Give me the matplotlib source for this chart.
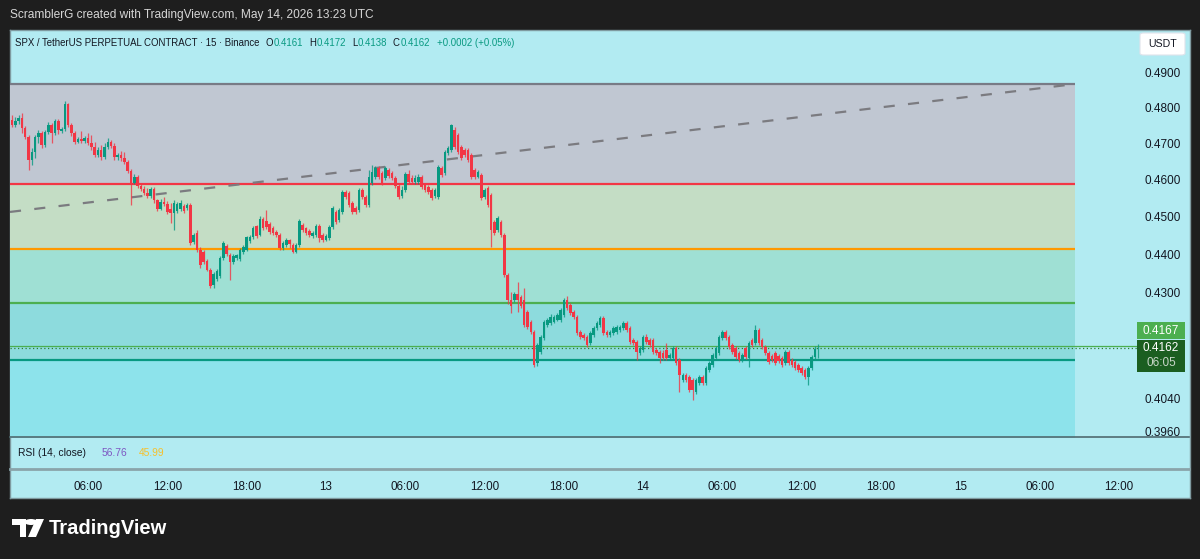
import datetime as dt
import matplotlib
matplotlib.use("Agg")
import matplotlib.pyplot as plt
import matplotlib.dates as mdates
from matplotlib.ticker import FixedLocator, FuncFormatter, NullLocator
from matplotlib.patches import Rectangle, FancyBboxPatch, Polygon, Circle
import pandas as pd

# ---------------- data ----------------
start_time = "2026-05-12 00:15"
opens = [
    .4765, .4751, .4762, .4771, .4743, .4718, .4653, .4675, .4718, .4729,
    .4695, .4732, .4751, .4729, .4762, .4734, .4740, .4811, .4751, .4729,
    .4704, .4712, .4706, .4715, .4701, .4690, .4667, .4681, .4661, .4690,
    .4704, .4692, .4661, .4667, .4659, .4647, .4623, .4590, .4606, .4582,
    .4574, .4563, .4555, .4574, .4544, .4520, .4539, .4533, .4520, .4509,
    .4514, .4520, .4528, .4522, .4530, .4432, .4456, .4411, .4406, .4382,
    .4359, .4320, .4336, .4344, .4390, .4421, .4398, .4380, .4390, .4388,
    .4406, .4411, .4435, .4445, .4475, .4451, .4493, .4488, .4480, .4469,
    .4459, .4451, .4416, .4424, .4437, .4424, .4406, .4424, .4477, .4469,
    .4461, .4448, .4451, .4475, .4451, .4437, .4443, .4472, .4512, .4490,
    .4512, .4566, .4563, .4536, .4522, .4517, .4571, .4552, .4530, .4590,
    .4606, .4631, .4618, .4604, .4626, .4618, .4604, .4582, .4555, .4571,
    .4615, .4604, .4593, .4593, .4606, .4585, .4579, .4571, .4555, .4552,
    .4631, .4618, .4673, .4681, .4737, .4723, .4690, .4681, .4681, .4667,
    .4626, .4606, .4612, .4552, .4576, .4557, .4485, .4464, .4485, .4451,
    .4346, .4282, .4282, .4298, .4290, .4282, .4252, .4227, .4202, .4125,
    .4152, .4187, .4220, .4225, .4227, .4232, .4232, .4245, .4282, .4270,
    .4252, .4240, .4202, .4195, .4190, .4175, .4195, .4212, .4220, .4237,
    .4202, .4195, .4200, .4202, .4207, .4212, .4225, .4212, .4182, .4177,
    .4150, .4157, .4190, .4182, .4182, .4157, .4152, .4150, .4157, .4137,
    .4137, .4162, .4132, .4083, .4096, .4091, .4083, .4054, .4076, .4091,
    .4076, .4108, .4120, .4137, .4150, .4187, .4202, .4190, .4170, .4162,
    .4150, .4132, .4162, .4137, .4182, .4175, .4207, .4182, .4165, .4150,
    .4142, .4150, .4142, .4137, .4125, .4152, .4132, .4127, .4120, .4113,
    .4108, .4091, .4113, .4140, .4161]
highs = [
    .4779, .4774, .4779, .4785, .4748, .4723, .4687, .4723, .4737, .4734,
    .4737, .4760, .4757, .4768, .4768, .4745, .4819, .4813, .4757, .4734,
    .4718, .4734, .4720, .4729, .4723, .4704, .4690, .4695, .4701, .4715,
    .4709, .4701, .4673, .4678, .4675, .4653, .4629, .4615, .4612, .4587,
    .4582, .4576, .4579, .4579, .4547, .4547, .4552, .4541, .4536, .4544,
    .4539, .4544, .4533, .4536, .4536, .4456, .4464, .4419, .4411, .4388,
    .4364, .4354, .4362, .4395, .4434, .4427, .4403, .4401, .4401, .4416,
    .4424, .4448, .4451, .4475, .4477, .4501, .4498, .4517, .4485, .4475,
    .4464, .4456, .4435, .4443, .4440, .4429, .4429, .4493, .4482, .4472,
    .4467, .4461, .4480, .4480, .4456, .4453, .4477, .4528, .4517, .4522,
    .4571, .4571, .4568, .4541, .4528, .4576, .4576, .4557, .4626, .4640,
    .4637, .4637, .4623, .4637, .4631, .4623, .4609, .4587, .4582, .4620,
    .4626, .4612, .4612, .4615, .4612, .4590, .4585, .4576, .4576, .4640,
    .4637, .4681, .4692, .4754, .4745, .4729, .4695, .4687, .4687, .4673,
    .4631, .4626, .4618, .4576, .4582, .4563, .4490, .4501, .4490, .4456,
    .4351, .4303, .4303, .4328, .4295, .4313, .4257, .4232, .4207, .4175,
    .4195, .4232, .4237, .4247, .4245, .4250, .4262, .4287, .4292, .4275,
    .4257, .4245, .4207, .4200, .4195, .4205, .4217, .4230, .4242, .4242,
    .4207, .4207, .4217, .4220, .4220, .4230, .4230, .4217, .4187, .4182,
    .4167, .4195, .4197, .4187, .4187, .4162, .4157, .4157, .4175, .4150,
    .4167, .4167, .4137, .4100, .4100, .4096, .4088, .4088, .4096, .4096,
    .4117, .4130, .4150, .4167, .4195, .4207, .4207, .4195, .4175, .4167,
    .4155, .4150, .4167, .4180, .4187, .4220, .4212, .4187, .4170, .4155,
    .4147, .4155, .4147, .4142, .4157, .4157, .4137, .4132, .4125, .4117,
    .4113, .4117, .4145, .4167, .4172]
lows = [
    .4745, .4745, .4754, .4729, .4712, .4626, .4640, .4659, .4701, .4687,
    .4690, .4726, .4701, .4723, .4726, .4729, .4734, .4745, .4720, .4698,
    .4701, .4701, .4701, .4695, .4681, .4661, .4661, .4653, .4656, .4684,
    .4687, .4653, .4653, .4650, .4642, .4618, .4530, .4587, .4576, .4568,
    .4557, .4549, .4549, .4536, .4514, .4517, .4528, .4506, .4482, .4464,
    .4509, .4514, .4509, .4517, .4424, .4427, .4406, .4364, .4375, .4356,
    .4313, .4313, .4331, .4338, .4385, .4395, .4333, .4375, .4385, .4382,
    .4401, .4408, .4429, .4440, .4443, .4448, .4464, .4467, .4453, .4451,
    .4445, .4411, .4411, .4419, .4416, .4403, .4403, .4419, .4459, .4451,
    .4445, .4443, .4445, .4432, .4432, .4435, .4437, .4467, .4480, .4485,
    .4506, .4547, .4525, .4506, .4506, .4512, .4547, .4525, .4525, .4585,
    .4601, .4601, .4585, .4598, .4604, .4598, .4576, .4547, .4549, .4566,
    .4587, .4587, .4587, .4587, .4574, .4566, .4560, .4544, .4549, .4547,
    .4606, .4612, .4667, .4675, .4684, .4670, .4653, .4661, .4647, .4601,
    .4601, .4604, .4544, .4547, .4525, .4419, .4451, .4459, .4445, .4341,
    .4272, .4250, .4277, .4252, .4262, .4215, .4210, .4197, .4115, .4118,
    .4147, .4182, .4215, .4220, .4225, .4230, .4227, .4240, .4257, .4245,
    .4235, .4195, .4185, .4182, .4165, .4170, .4190, .4207, .4215, .4195,
    .4190, .4190, .4195, .4197, .4202, .4207, .4202, .4172, .4170, .4132,
    .4145, .4152, .4172, .4165, .4147, .4145, .4125, .4132, .4132, .4132,
    .4132, .4120, .4054, .4078, .4078, .4054, .4035, .4049, .4071, .4071,
    .4071, .4103, .4115, .4132, .4145, .4182, .4182, .4160, .4147, .4135,
    .4127, .4127, .4135, .4115, .4165, .4170, .4170, .4160, .4145, .4122,
    .4127, .4120, .4125, .4115, .4120, .4120, .4115, .4108, .4103, .4096,
    .4086, .4071, .4108, .4135, .4138]
closes = [
    .4751, .4762, .4771, .4743, .4718, .4653, .4675, .4718, .4729, .4695,
    .4732, .4751, .4729, .4762, .4737, .4740, .4811, .4751, .4729, .4704,
    .4712, .4706, .4715, .4701, .4690, .4667, .4681, .4661, .4690, .4704,
    .4692, .4661, .4667, .4659, .4647, .4623, .4590, .4606, .4582, .4574,
    .4563, .4555, .4574, .4544, .4520, .4539, .4533, .4512, .4509, .4536,
    .4533, .4536, .4514, .4530, .4429, .4451, .4411, .4372, .4380, .4359,
    .4318, .4349, .4356, .4390, .4429, .4401, .4380, .4395, .4398, .4411,
    .4419, .4445, .4445, .4469, .4448, .4493, .4469, .4472, .4459, .4456,
    .4451, .4416, .4429, .4437, .4427, .4406, .4424, .4488, .4464, .4456,
    .4451, .4456, .4475, .4443, .4437, .4448, .4472, .4522, .4485, .4517,
    .4566, .4552, .4530, .4512, .4512, .4571, .4552, .4530, .4606, .4620,
    .4631, .4606, .4590, .4631, .4609, .4604, .4582, .4552, .4571, .4615,
    .4593, .4593, .4604, .4606, .4579, .4571, .4566, .4549, .4571, .4634,
    .4612, .4675, .4687, .4751, .4690, .4675, .4659, .4667, .4653, .4606,
    .4606, .4620, .4549, .4571, .4530, .4464, .4456, .4496, .4451, .4346,
    .4282, .4267, .4298, .4282, .4267, .4220, .4215, .4202, .4120, .4170,
    .4190, .4227, .4232, .4240, .4240, .4245, .4257, .4282, .4262, .4250,
    .4240, .4200, .4190, .4187, .4170, .4200, .4212, .4225, .4237, .4200,
    .4195, .4202, .4212, .4215, .4215, .4225, .4207, .4177, .4175, .4152,
    .4162, .4190, .4177, .4170, .4152, .4150, .4137, .4137, .4137, .4145,
    .4162, .4125, .4096, .4096, .4083, .4059, .4059, .4083, .4091, .4076,
    .4113, .4125, .4145, .4162, .4190, .4202, .4187, .4165, .4152, .4140,
    .4132, .4145, .4140, .4175, .4170, .4207, .4175, .4165, .4150, .4127,
    .4132, .4125, .4130, .4120, .4152, .4125, .4120, .4113, .4108, .4100,
    .4091, .4113, .4140, .4160, .4162]

fib_levels = [0.4868, 0.4588, 0.4414, 0.4274, 0.4132, 0.3932]
fib_line_colors = ["#787b86", "#f23645", "#ff9800", "#4caf50", "#089981", None]
fib_zone_colors = ["#c0c7d2", "#c4ddc5", "#9fe0d4", "#8ddbdd", "#8de3eb"]
trend_prices = [0.4512, 0.4868]
price_ticks = [0.49, 0.48, 0.47, 0.46, 0.45, 0.44, 0.43, 0.404, 0.396]
bid_line = 0.4167
rsi_vals = ["56.76", "45.99"]
countdown = "06:05"

n = len(closes)
assert len(opens) == n and len(highs) == n and len(lows) == n, (len(opens), len(highs), len(lows), n)

times = pd.date_range(start_time, periods=n, freq="15min")
tnum = mdates.date2num(times.to_pydatetime())
bar_w = 15 / 1440

t_left = mdates.date2num(dt.datetime(2026, 5, 12, 0, 6))
t_right = t_left + (1179 / 13.218) / 24
t_fib_end = t_left + (1065 / 13.218) / 24

# ---------------- figure ----------------
W, H = 1200, 559
fig = plt.figure(figsize=(W / 100, H / 100), dpi=100)
fig.patch.set_facecolor("#1e1e1e")
FONT = ["Liberation Sans", "DejaVu Sans"]
plt.rcParams["font.family"] = FONT
DARK = "#131722"
GREEN = "#089981"
RED = "#f23645"


def fx(px):
    return px / W


def fy(py):
    return 1 - py / H


# container background
bg = fig.add_axes([fx(10), fy(498), 1180 / W, (498 - 30) / H])
bg.set_facecolor("#b2ebf2")
bg.set_xticks([])
bg.set_yticks([])
for s in bg.spines.values():
    s.set_color("#7f9aa0")
    s.set_linewidth(1)

# main price pane
ax = fig.add_axes([fx(10), fy(437), 1179 / W, (437 - 30) / H])
ax.patch.set_alpha(0)
ax.set_yscale("log")
ax.set_ylim(0.39476, 0.50267)
ax.set_xlim(t_left, t_right)

# fib zones and levels
for k in range(len(fib_zone_colors)):
    ax.fill_between([t_left, t_fib_end], fib_levels[k + 1], fib_levels[k],
                    color=fib_zone_colors[k], lw=0, zorder=1)
for lvl, c in zip(fib_levels, fib_line_colors):
    if c:
        ax.hlines(lvl, t_left, t_fib_end, color=c, lw=1.6, zorder=2)

# trend line
ax.plot([t_left, t_fib_end], trend_prices, color="#7b7b80", lw=1.6,
        ls=(0, (5, 6)), zorder=3)

# last price lines
frac_end = (1137 - 10) / 1179
ax.axhline(bid_line, xmax=frac_end, color="#4caf50", lw=0.9, zorder=3)
ax.axhline(closes[-1], xmax=frac_end, color="#2e7d32", lw=0.9,
           ls=(0, (1, 2)), zorder=3)

# candles
for t, o, h, l, c in zip(tnum, opens, highs, lows, closes):
    col = GREEN if c >= o else RED
    ax.vlines(t, l, h, color=col, lw=0.9, alpha=0.8, zorder=4)
    lo_, hi_ = min(o, c), max(o, c)
    if hi_ - lo_ < 0.00004:
        hi_ = lo_ + 0.00004
    ax.bar(t, hi_ - lo_, bottom=lo_, width=bar_w * 0.78, color=col,
           lw=0, zorder=5)

ax.yaxis.tick_right()
ax.yaxis.set_major_locator(FixedLocator(price_ticks))
ax.yaxis.set_minor_locator(NullLocator())
ax.yaxis.set_major_formatter(FuncFormatter(lambda v, p: f"{v:.4f}"))
ax.tick_params(axis="y", length=0, pad=-6, labelsize=8.5, labelcolor=DARK)
for lbl in ax.get_yticklabels():
    lbl.set_horizontalalignment("right")
ax.set_xticks([])
for s in ["top", "left", "right"]:
    ax.spines[s].set_visible(False)
ax.spines["bottom"].set_color("#4f6a70")
ax.spines["bottom"].set_linewidth(1.2)

# RSI pane + time axis
rx = fig.add_axes([fx(10), fy(469), 1179 / W, (469 - 438) / H])
rx.patch.set_alpha(0)
rx.set_xlim(t_left, t_right)
rx.set_yticks([])
rx.xaxis.set_major_locator(mdates.HourLocator(byhour=[0, 6, 12, 18]))


def tfmt(v, pos):
    d = mdates.num2date(v)
    if d.hour == 0 and d.minute == 0:
        return f"{d.day}"
    return d.strftime("%H:%M")


rx.xaxis.set_major_formatter(FuncFormatter(tfmt))
rx.tick_params(axis="x", length=0, pad=8.5, labelsize=8.4, labelcolor=DARK)
for s in ["top", "left", "right"]:
    rx.spines[s].set_visible(False)
rx.spines["bottom"].set_color("#8aa4aa")
rx.spines["bottom"].set_linewidth(2)

# ---------------- texts ----------------
fig.text(fx(10), fy(15), "ScramblerG created with TradingView.com, May 14, 2026 13:23 UTC",
         color="#d6d6d6", fontsize=8.6, va="center", ha="left")

o_, h_, l_, c_ = opens[-1], highs[-1], lows[-1], closes[-1]
chg = c_ - closes[-2]
pct = chg / closes[-2] * 100
pieces = [
    ("SPX / TetherUS PERPETUAL CONTRACT · 15 · Binance", DARK, 0),
    ("O", DARK, 6), (f"{o_:.4f}", GREEN, 0.5),
    ("H", DARK, 6), (f"{h_:.4f}", GREEN, 0.5),
    ("L", DARK, 6), (f"{l_:.4f}", GREEN, 0.5),
    ("C", DARK, 6), (f"{c_:.4f}", GREEN, 0.5),
    (f"{chg:+.4f} ({pct:+.2f}%)", GREEN, 7),
]
renderer = fig.canvas.get_renderer()
xcur = 15
for s, col, gap in pieces:
    xcur += gap
    t = fig.text(fx(xcur), fy(43), s, color=col, fontsize=6.9, va="center", ha="left")
    bb = t.get_window_extent(renderer)
    xcur = bb.x1

# RSI legend
fig.text(fx(18), fy(453), "RSI (14, close)", color=DARK, fontsize=7.4, va="center")
fig.text(fx(102), fy(453), rsi_vals[0], color="#7e57c2", fontsize=7.4, va="center")
fig.text(fx(139), fy(453), rsi_vals[1], color="#f7c02b", fontsize=7.4, va="center")

# USDT button
fig.patches.append(FancyBboxPatch((fx(1140), fy(55)), fx(45), 22 / H,
                                  boxstyle="round,pad=0,rounding_size=0.003",
                                  transform=fig.transFigure, fc="white", ec="#e0e3eb",
                                  lw=0.8, zorder=5))
fig.text(fx(1162.5), fy(44), "USDT", color=DARK, fontsize=7.6, ha="center",
         va="center", zorder=6)

# last-price badges
fig.patches.append(Rectangle((fx(1137), fy(339)), fx(48), 17 / H,
                             transform=fig.transFigure, fc="#4caf50", ec="none", zorder=5))
fig.text(fx(1161), fy(330.5), f"{bid_line:.4f}", color="white", fontsize=8.5,
         ha="center", va="center", zorder=6)
fig.patches.append(Rectangle((fx(1137), fy(372)), fx(48), 32 / H,
                             transform=fig.transFigure, fc="#1b5e20", ec="none", zorder=5))
fig.text(fx(1161), fy(348), f"{c_:.4f}", color="white", fontsize=8.5,
         ha="center", va="center", zorder=6)
fig.text(fx(1161), fy(363), countdown, color="#c8d6c8", fontsize=8.5,
         ha="center", va="center", zorder=6)

# TradingView logo
logo = [
    Polygon([(fx(12), fy(519)), (fx(26), fy(519)), (fx(26), fy(537)),
             (fx(20), fy(537)), (fx(20), fy(525)), (fx(12), fy(525))], closed=True),
    Polygon([(fx(36), fy(519)), (fx(44), fy(519)), (fx(36), fy(537)),
             (fx(28), fy(537))], closed=True),
]
for p in logo:
    p.set_transform(fig.transFigure)
    p.set_facecolor("white")
    p.set_edgecolor("none")
    fig.patches.append(p)
fig.patches.append(Circle((fx(31), fy(522)), 3 / H, transform=fig.transFigure,
                          fc="white", ec="none"))
fig.text(fx(49), fy(528), "TradingView", color="white", fontsize=14.5,
         fontweight="bold", va="center", ha="left")

fig.savefig("out.png", dpi=100, facecolor=fig.get_facecolor())
